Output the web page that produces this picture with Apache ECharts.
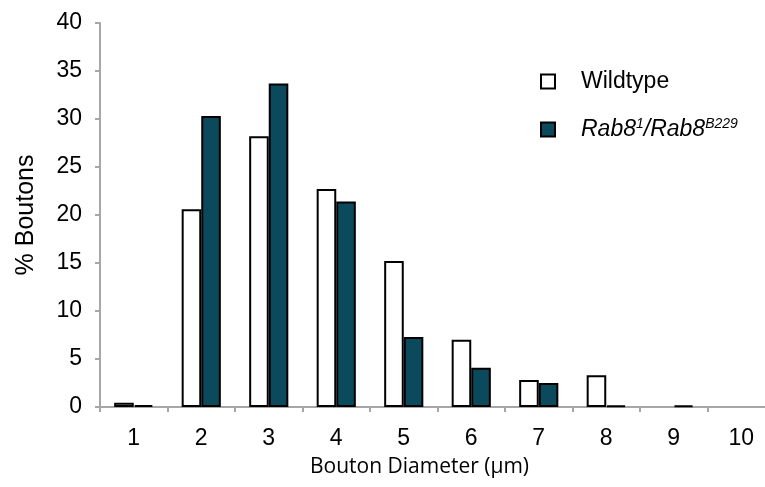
<!DOCTYPE html>
<html>
<head>
<meta charset="utf-8">
<script src="https://cdn.jsdelivr.net/npm/echarts@6/dist/echarts.min.js"></script>
<style>html,body{margin:0;padding:0;background:#fff}#c{width:765px;height:487px}</style>
</head>
<body>
<div id="c"></div>
<script>
const categories = ['1','2','3','4','5','6','7','8','9','10'];
const wildtype = [0.45, 20.6, 28.2, 22.7, 15.2, 7.0, 2.8, 3.3, 0, 0];
const rab8 = [0.2, 30.3, 33.7, 21.4, 7.3, 4.1, 2.5, 0.15, 0.15, 0];
const yTicks = [0, 5, 10, 15, 20, 25, 30, 35, 40];

function toData(arr) {
  return arr.map(function (v) {
    return v === 0 ? {value: v, itemStyle: {borderWidth: 0}} : v;
  });
}

const chart = echarts.init(document.getElementById('c'));
const axisColor = '#a6a6a6';
const font = 'Liberation Sans';
chart.setOption({
  animation: false,
  grid: {left: 100, width: 675, top: 23, height: 384, containLabel: false, outerBoundsMode: 'none'},
  legend: {
    orient: 'vertical',
    left: 535, top: 65,
    itemWidth: 14, itemHeight: 14, itemGap: 24,
    icon: 'rect',
    itemStyle: {borderColor: '#000', borderWidth: 2},
    textStyle: {
      fontFamily: font, fontSize: 23, color: '#000', padding: [0,0,0,21],
      rich: {
        n: {fontFamily: font, fontSize: 23, color: '#000'},
        i: {fontFamily: font, fontSize: 23, fontStyle: 'italic', color: '#000'},
        s: {fontFamily: font, fontSize: 14, fontStyle: 'italic', color: '#000', padding: [0,0,11,0]}
      }
    },
    formatter: function (name) {
      if (name === 'Wildtype') return '{n|Wildtype}';
      return '{i|Rab8}{s|1}{i|/Rab8}{s|B229}';
    },
    data: ['Wildtype', 'Rab8']
  },
  xAxis: {
    type: 'category',
    data: categories,
    name: 'Bouton Diameter (µm)',
    nameLocation: 'middle',
    nameGap: 50,
    nameTextStyle: {fontFamily: 'Open Sans', fontSize: 21, color: '#000', padding: [0, 36, 0, 0]},
    axisLine: {lineStyle: {color: axisColor, width: 2}},
    axisTick: {show: true, length: 5, lineStyle: {color: axisColor, width: 2}},
    axisLabel: {fontFamily: font, fontSize: 23, color: '#000', margin: 20}
  },
  yAxis: {
    type: 'value',
    min: 0, max: 40, interval: 5,
    name: '% Boutons',
    nameLocation: 'middle',
    nameGap: 61,
    nameRotate: 90,
    nameTextStyle: {fontFamily: font, fontSize: 25, color: '#000'},
    splitLine: {show: false},
    axisLine: {show: true, lineStyle: {color: axisColor, width: 2}},
    axisTick: {show: true, length: 5, lineStyle: {color: axisColor, width: 2}},
    axisLabel: {fontFamily: font, fontSize: 23, color: '#000', margin: 18,
      formatter: function (v) { return yTicks.indexOf(v) >= 0 ? String(v) : ''; }}
  },
  series: [
    {name: 'Wildtype', type: 'bar', data: toData(wildtype), barGap: '0%', barCategoryGap: '42%',
     itemStyle: {color: '#ffffff', borderColor: '#000', borderWidth: 2}},
    {name: 'Rab8', type: 'bar', data: toData(rab8), barGap: '0%', barCategoryGap: '42%',
     itemStyle: {color: '#0a4a5c', borderColor: '#000', borderWidth: 2}}
  ]
});
</script>
</body>
</html>
